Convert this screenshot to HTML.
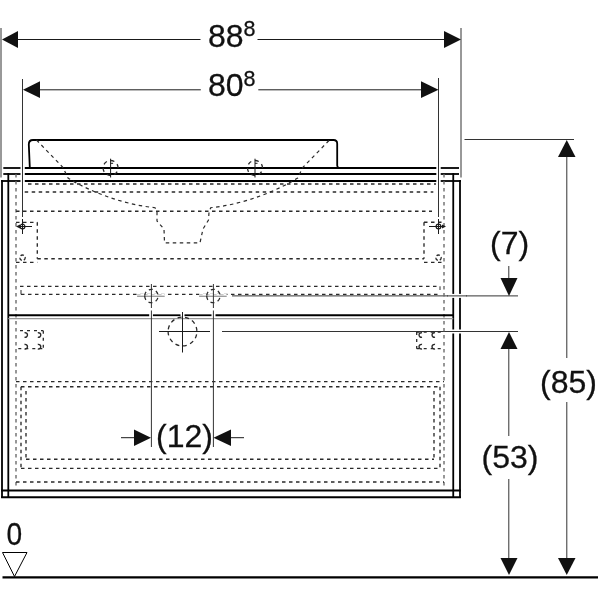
<!DOCTYPE html>
<html><head><meta charset="utf-8"><style>
html,body{margin:0;padding:0;background:#fff;width:600px;height:600px;overflow:hidden}
svg{position:absolute;left:0;top:0;will-change:transform}
text{font-family:"Liberation Sans",sans-serif;fill:#111;stroke:#111;stroke-width:0.3}
</style></head><body>
<svg width="600" height="600" viewBox="0 0 600 600">
<line x1="1" y1="28" x2="1" y2="177.5" stroke="#333" stroke-width="1"/>
<line x1="461" y1="28" x2="461" y2="177.5" stroke="#333" stroke-width="1"/>
<line x1="18" y1="39.5" x2="200.5" y2="39.5" stroke="#1a1a1a" stroke-width="1"/>
<line x1="257.5" y1="39.5" x2="444" y2="39.5" stroke="#1a1a1a" stroke-width="1"/>
<polygon points="2,39.5 18,31 18,48" fill="#111"/>
<polygon points="461,39.5 444,31 444,48" fill="#111"/>
<text x="208" y="47" font-size="32" text-anchor="start">88</text>
<text x="243.6" y="36.4" font-size="21.5" text-anchor="start">8</text>
<line x1="22.5" y1="79" x2="22.5" y2="217" stroke="#333" stroke-width="1"/>
<line x1="438.5" y1="78" x2="438.5" y2="217" stroke="#333" stroke-width="1"/>
<line x1="40" y1="89.8" x2="200.8" y2="89.8" stroke="#1a1a1a" stroke-width="1"/>
<line x1="258.3" y1="89.8" x2="421" y2="89.8" stroke="#1a1a1a" stroke-width="1"/>
<polygon points="23,89.8 40,81.3 40,98" fill="#111"/>
<polygon points="438.5,89.8 421,81.3 421,98" fill="#111"/>
<text x="208" y="96" font-size="32" text-anchor="start">80</text>
<text x="243.6" y="85.9" font-size="21.5" text-anchor="start">8</text>
<line x1="464.5" y1="139.5" x2="574" y2="139.5" stroke="#333" stroke-width="1"/>
<line x1="566.8" y1="156" x2="566.8" y2="358" stroke="#333" stroke-width="1"/>
<line x1="566.8" y1="402" x2="566.8" y2="559" stroke="#333" stroke-width="1"/>
<polygon points="566.75,140 558,157 575.5,157" fill="#111"/>
<polygon points="566.75,575 558,558 575.5,558" fill="#111"/>
<text x="540" y="393" font-size="32" text-anchor="start">(85)</text>
<line x1="222" y1="331.5" x2="518" y2="331.5" stroke="#333" stroke-width="1"/>
<line x1="508.8" y1="349" x2="508.8" y2="436" stroke="#333" stroke-width="1"/>
<line x1="508.8" y1="479" x2="508.8" y2="559" stroke="#333" stroke-width="1"/>
<polygon points="509,332 500.5,349 517.5,349" fill="#111"/>
<polygon points="509,575 500.5,558 517.5,558" fill="#111"/>
<text x="481.5" y="468" font-size="32" text-anchor="start">(53)</text>
<line x1="232" y1="295.9" x2="518" y2="295.9" stroke="#333" stroke-width="1"/>
<line x1="508.8" y1="266" x2="508.8" y2="279" stroke="#333" stroke-width="1"/>
<polygon points="509,296 500.5,278 517.5,278" fill="#111"/>
<text x="490" y="254" font-size="32" text-anchor="start">(7)</text>
<line x1="2.5" y1="577.4" x2="598" y2="577.4" stroke="#000" stroke-width="2.4"/>
<path d="M2.5,552.5 L27,552.5 L14.5,576.5 Z" stroke="#000" stroke-width="1" fill="none"/>
<text transform="translate(14.3,545.3) scale(0.88,1)" x="0" y="0" font-size="32" text-anchor="middle">0</text>
<line x1="3.3" y1="168" x2="20.5" y2="168" stroke="#000" stroke-width="1.8"/>
<line x1="24.8" y1="168" x2="436.3" y2="168" stroke="#000" stroke-width="1.8"/>
<line x1="440.7" y1="168" x2="459" y2="168" stroke="#000" stroke-width="1.8"/>
<line x1="3.3" y1="174" x2="20.5" y2="174" stroke="#000" stroke-width="1.8"/>
<line x1="24.8" y1="174" x2="436.3" y2="174" stroke="#000" stroke-width="1.8"/>
<line x1="440.7" y1="174" x2="459" y2="174" stroke="#000" stroke-width="1.8"/>
<line x1="1.1" y1="181" x2="20.5" y2="181" stroke="#000" stroke-width="1.8"/>
<line x1="24.8" y1="181" x2="436.3" y2="181" stroke="#000" stroke-width="1.8"/>
<line x1="440.7" y1="181" x2="460.9" y2="181" stroke="#000" stroke-width="1.8"/>
<line x1="2" y1="180.1" x2="2" y2="498.1" stroke="#000" stroke-width="1.8"/>
<line x1="460" y1="180.1" x2="460" y2="498.1" stroke="#000" stroke-width="1.8"/>
<line x1="8.3" y1="173.1" x2="8.3" y2="498.1" stroke="#000" stroke-width="1.8"/>
<line x1="453.25" y1="173.1" x2="453.25" y2="498.1" stroke="#000" stroke-width="1.8"/>
<line x1="1.1" y1="497.25" x2="460.9" y2="497.25" stroke="#000" stroke-width="1.8"/>
<line x1="1.1" y1="490.5" x2="460.9" y2="490.5" stroke="#000" stroke-width="1.8"/>
<path d="M29.8,167.5 L28.8,144.5 Q28.8,140 33,140 L333.5,140 Q337.2,140 337.2,143.7 L337.2,165.5 Q337.2,167.5 339,168" stroke="#000" stroke-width="1.8" fill="none"/>
<path d="M36.5,140 L63,167.5 L68,178 C86,189.5 121,204.5 155,207.7 L157,211 L157,221 L164,229 L164.5,242.8 L200,242.8 L203,229 L208.5,220 L209,212 L210.7,207.7 C244.7,204.5 279.7,189.5 297.7,178 L302.7,167.5 L329.5,140" stroke="#2a2a2a" stroke-width="1.2" fill="none" stroke-dasharray="3.5 3.5"/>
<path d="M103.1,168 a7.5,7.5 0 1,0 15,0 a7.5,7.5 0 1,0 -15,0" stroke="#2a2a2a" stroke-width="1.3" fill="none" stroke-dasharray="4 3.8"/>
<line x1="110.6" y1="158.7" x2="110.6" y2="177.5" stroke="#1a1a1a" stroke-width="1"/>
<line x1="110.6" y1="163.3" x2="113.1" y2="163.3" stroke="#1a1a1a" stroke-width="1"/>
<path d="M247.5,168 a7.5,7.5 0 1,0 15,0 a7.5,7.5 0 1,0 -15,0" stroke="#2a2a2a" stroke-width="1.3" fill="none" stroke-dasharray="4 3.8"/>
<line x1="255" y1="158.7" x2="255" y2="177.5" stroke="#1a1a1a" stroke-width="1"/>
<line x1="255" y1="163.3" x2="257.5" y2="163.3" stroke="#1a1a1a" stroke-width="1"/>
<line x1="16" y1="174" x2="16" y2="489" stroke="#666" stroke-width="1.35" stroke-dasharray="3.5 3.5"/>
<line x1="444" y1="174" x2="444" y2="489" stroke="#666" stroke-width="1.35" stroke-dasharray="3.5 3.5"/>
<line x1="28" y1="184" x2="436" y2="184" stroke="#2a2a2a" stroke-width="1.35" stroke-dasharray="3.5 3.5"/>
<line x1="24.7" y1="192" x2="433.3" y2="192" stroke="#2a2a2a" stroke-width="1.35" stroke-dasharray="3.5 3.5"/>
<line x1="16" y1="211.2" x2="432" y2="211.2" stroke="#2a2a2a" stroke-width="1.35" stroke-dasharray="3.5 3.5"/>
<line x1="16" y1="222.3" x2="37.3" y2="222.3" stroke="#2a2a2a" stroke-width="1.35" stroke-dasharray="3.5 3.5"/>
<line x1="37.3" y1="222.3" x2="37.3" y2="258.7" stroke="#2a2a2a" stroke-width="1.35" stroke-dasharray="3.5 3.5"/>
<line x1="16" y1="262.3" x2="37.3" y2="262.3" stroke="#2a2a2a" stroke-width="1.35" stroke-dasharray="3.5 3.5"/>
<line x1="37.3" y1="258.7" x2="424" y2="258.7" stroke="#2a2a2a" stroke-width="1.35" stroke-dasharray="3.5 3.5"/>
<line x1="424" y1="222.2" x2="444" y2="222.2" stroke="#2a2a2a" stroke-width="1.35" stroke-dasharray="3.5 3.5"/>
<line x1="424" y1="222.2" x2="424" y2="258.7" stroke="#2a2a2a" stroke-width="1.35" stroke-dasharray="3.5 3.5"/>
<line x1="424" y1="262.3" x2="444" y2="262.3" stroke="#2a2a2a" stroke-width="1.35" stroke-dasharray="3.5 3.5"/>
<path d="M20.1,226.5 a2.4,2.4 0 1,0 4.8,0 a2.4,2.4 0 1,0 -4.8,0" stroke="#1a1a1a" stroke-width="1.2" fill="none"/>
<line x1="22.5" y1="219" x2="22.5" y2="234" stroke="#1a1a1a" stroke-width="1"/>
<line x1="18" y1="226.5" x2="32" y2="226.5" stroke="#1a1a1a" stroke-width="1"/>
<polygon points="16,226.5 20,224.5 20,228.5" fill="#1a1a1a"/>
<path d="M19.8,257.7 a2.7,2.7 0 1,0 5.4,0 a2.7,2.7 0 1,0 -5.4,0" stroke="#2a2a2a" stroke-width="1.3" fill="none" stroke-dasharray="3.5 2"/>
<path d="M436.1,226.5 a2.4,2.4 0 1,0 4.8,0 a2.4,2.4 0 1,0 -4.8,0" stroke="#1a1a1a" stroke-width="1.2" fill="none"/>
<line x1="438.5" y1="219" x2="438.5" y2="234" stroke="#1a1a1a" stroke-width="1"/>
<line x1="429" y1="226.5" x2="443" y2="226.5" stroke="#1a1a1a" stroke-width="1"/>
<polygon points="446,226.5 442,224.5 442,228.5" fill="#1a1a1a"/>
<path d="M435.8,257.7 a2.7,2.7 0 1,0 5.4,0 a2.7,2.7 0 1,0 -5.4,0" stroke="#2a2a2a" stroke-width="1.3" fill="none" stroke-dasharray="3.5 2"/>
<line x1="20" y1="286.3" x2="440" y2="286.3" stroke="#2a2a2a" stroke-width="1.35" stroke-dasharray="3.5 3.5"/>
<line x1="21" y1="294.4" x2="440" y2="294.4" stroke="#2a2a2a" stroke-width="1.35" stroke-dasharray="3.5 3.5"/>
<line x1="21" y1="290" x2="21" y2="294.4" stroke="#2a2a2a" stroke-width="1"/>
<line x1="440" y1="286.3" x2="440" y2="290" stroke="#2a2a2a" stroke-width="1"/>
<line x1="8.3" y1="315.25" x2="149.2" y2="315.25" stroke="#000" stroke-width="1.8"/>
<line x1="152.9" y1="315.25" x2="180.5" y2="315.25" stroke="#000" stroke-width="1.8"/>
<line x1="184.5" y1="315.25" x2="211.5" y2="315.25" stroke="#000" stroke-width="1.8"/>
<line x1="215.5" y1="315.25" x2="453.25" y2="315.25" stroke="#000" stroke-width="1.8"/>
<line x1="8.3" y1="318.6" x2="453.25" y2="318.6" stroke="#999" stroke-width="1.2"/>
<line x1="20" y1="330.7" x2="43.3" y2="330.7" stroke="#2a2a2a" stroke-width="1.3" stroke-dasharray="3 4"/>
<line x1="43.3" y1="330.7" x2="43.3" y2="348.7" stroke="#2a2a2a" stroke-width="1.3" stroke-dasharray="3 4"/>
<line x1="18.3" y1="348.7" x2="43.3" y2="348.7" stroke="#2a2a2a" stroke-width="1.3" stroke-dasharray="3 4"/>
<path d="M24.5,332.8 a2.3,2.3 0 1,1 0,4.4" stroke="#2a2a2a" stroke-width="1.4" fill="none"/>
<path d="M24.5,344.5 a2.3,2.3 0 1,1 0,4.4" stroke="#2a2a2a" stroke-width="1.4" fill="none"/>
<path d="M37.8,332.8 a2.3,2.3 0 1,1 0,4.4" stroke="#2a2a2a" stroke-width="1.4" fill="none"/>
<path d="M37.8,344.5 a2.3,2.3 0 1,1 0,4.4" stroke="#2a2a2a" stroke-width="1.4" fill="none"/>
<path d="M422.0,332.8 a2.3,2.3 0 1,0 0,4.4" stroke="#2a2a2a" stroke-width="1.4" fill="none"/>
<path d="M422.0,344.5 a2.3,2.3 0 1,0 0,4.4" stroke="#2a2a2a" stroke-width="1.4" fill="none"/>
<path d="M435.0,332.8 a2.3,2.3 0 1,0 0,4.4" stroke="#2a2a2a" stroke-width="1.4" fill="none"/>
<path d="M435.0,344.5 a2.3,2.3 0 1,0 0,4.4" stroke="#2a2a2a" stroke-width="1.4" fill="none"/>
<line x1="416.7" y1="332" x2="442" y2="332" stroke="#2a2a2a" stroke-width="1.3" stroke-dasharray="3 4"/>
<line x1="416.7" y1="332" x2="416.7" y2="348.7" stroke="#2a2a2a" stroke-width="1.3" stroke-dasharray="3 4"/>
<line x1="416.7" y1="348.7" x2="444" y2="348.7" stroke="#2a2a2a" stroke-width="1.3" stroke-dasharray="3 4"/>
<line x1="16" y1="381.6" x2="444" y2="381.6" stroke="#2a2a2a" stroke-width="1.35" stroke-dasharray="3.5 3.5"/>
<line x1="21" y1="386.7" x2="440" y2="386.7" stroke="#2a2a2a" stroke-width="1.35" stroke-dasharray="3.5 3.5"/>
<line x1="21" y1="386.7" x2="21" y2="468.4" stroke="#2a2a2a" stroke-width="1.35" stroke-dasharray="3.5 3.5"/>
<line x1="440" y1="386.7" x2="440" y2="468.4" stroke="#2a2a2a" stroke-width="1.35" stroke-dasharray="3.5 3.5"/>
<line x1="21" y1="468.4" x2="440" y2="468.4" stroke="#2a2a2a" stroke-width="1.35" stroke-dasharray="3.5 3.5"/>
<line x1="26" y1="391" x2="26" y2="459.2" stroke="#2a2a2a" stroke-width="1.35" stroke-dasharray="3.5 3.5"/>
<line x1="434" y1="391" x2="434" y2="459.2" stroke="#2a2a2a" stroke-width="1.35" stroke-dasharray="3.5 3.5"/>
<line x1="26" y1="459.2" x2="434" y2="459.2" stroke="#2a2a2a" stroke-width="1.35" stroke-dasharray="3.5 3.5"/>
<line x1="16" y1="482" x2="444" y2="482" stroke="#2a2a2a" stroke-width="1.35" stroke-dasharray="3.5 3.5"/>
<line x1="448" y1="295.9" x2="466" y2="295.9" stroke="#fff" stroke-width="4"/>
<line x1="448" y1="331.5" x2="466" y2="331.5" stroke="#fff" stroke-width="4"/>
<line x1="447" y1="295.9" x2="467" y2="295.9" stroke="#333" stroke-width="1"/>
<line x1="447" y1="331.5" x2="467" y2="331.5" stroke="#333" stroke-width="1"/>
<line x1="137.1" y1="295.2" x2="164.70000000000002" y2="295.2" stroke="#fff" stroke-width="3.2"/>
<line x1="137.1" y1="294.6" x2="164.70000000000002" y2="294.6" stroke="#c8c8c8" stroke-width="1.2" stroke-dasharray="3.5 3.5"/>
<line x1="137.1" y1="296.3" x2="164.70000000000002" y2="296.3" stroke="#999" stroke-width="1.3"/>
<path d="M144.70000000000002,296 a6.7,6.7 0 1,0 13.4,0 a6.7,6.7 0 1,0 -13.4,0" stroke="#2a2a2a" stroke-width="1.3" fill="none" stroke-dasharray="4 3.5"/>
<line x1="151.4" y1="284" x2="151.4" y2="308" stroke="#333" stroke-width="1"/>
<line x1="151.4" y1="310.5" x2="151.4" y2="447" stroke="#333" stroke-width="1"/>
<line x1="199.1" y1="295.2" x2="226.70000000000002" y2="295.2" stroke="#fff" stroke-width="3.2"/>
<line x1="199.1" y1="294.6" x2="226.70000000000002" y2="294.6" stroke="#c8c8c8" stroke-width="1.2" stroke-dasharray="3.5 3.5"/>
<line x1="199.1" y1="296.3" x2="226.70000000000002" y2="296.3" stroke="#999" stroke-width="1.3"/>
<path d="M206.70000000000002,296 a6.7,6.7 0 1,0 13.4,0 a6.7,6.7 0 1,0 -13.4,0" stroke="#2a2a2a" stroke-width="1.3" fill="none" stroke-dasharray="4 3.5"/>
<line x1="213.4" y1="284" x2="213.4" y2="308" stroke="#333" stroke-width="1"/>
<line x1="213.4" y1="310.5" x2="213.4" y2="447" stroke="#333" stroke-width="1"/>
<path d="M168.1,331.5 a14.4,14.4 0 1,0 28.8,0 a14.4,14.4 0 1,0 -28.8,0" stroke="#2a2a2a" stroke-width="1.3" fill="none" stroke-dasharray="4 3.6"/>
<line x1="182.5" y1="312" x2="182.5" y2="352.5" stroke="#1a1a1a" stroke-width="1"/>
<line x1="159" y1="331.5" x2="210" y2="331.5" stroke="#1a1a1a" stroke-width="1"/>
<line x1="121" y1="437.7" x2="134" y2="437.7" stroke="#1a1a1a" stroke-width="1"/>
<polygon points="151,437.7 134,429.5 134,446" fill="#111"/>
<line x1="231" y1="437.7" x2="244" y2="437.7" stroke="#1a1a1a" stroke-width="1"/>
<polygon points="213.5,437.7 231,429.5 231,446" fill="#111"/>
<text x="156" y="447" font-size="32" text-anchor="start">(12)</text>
</svg></body></html>
